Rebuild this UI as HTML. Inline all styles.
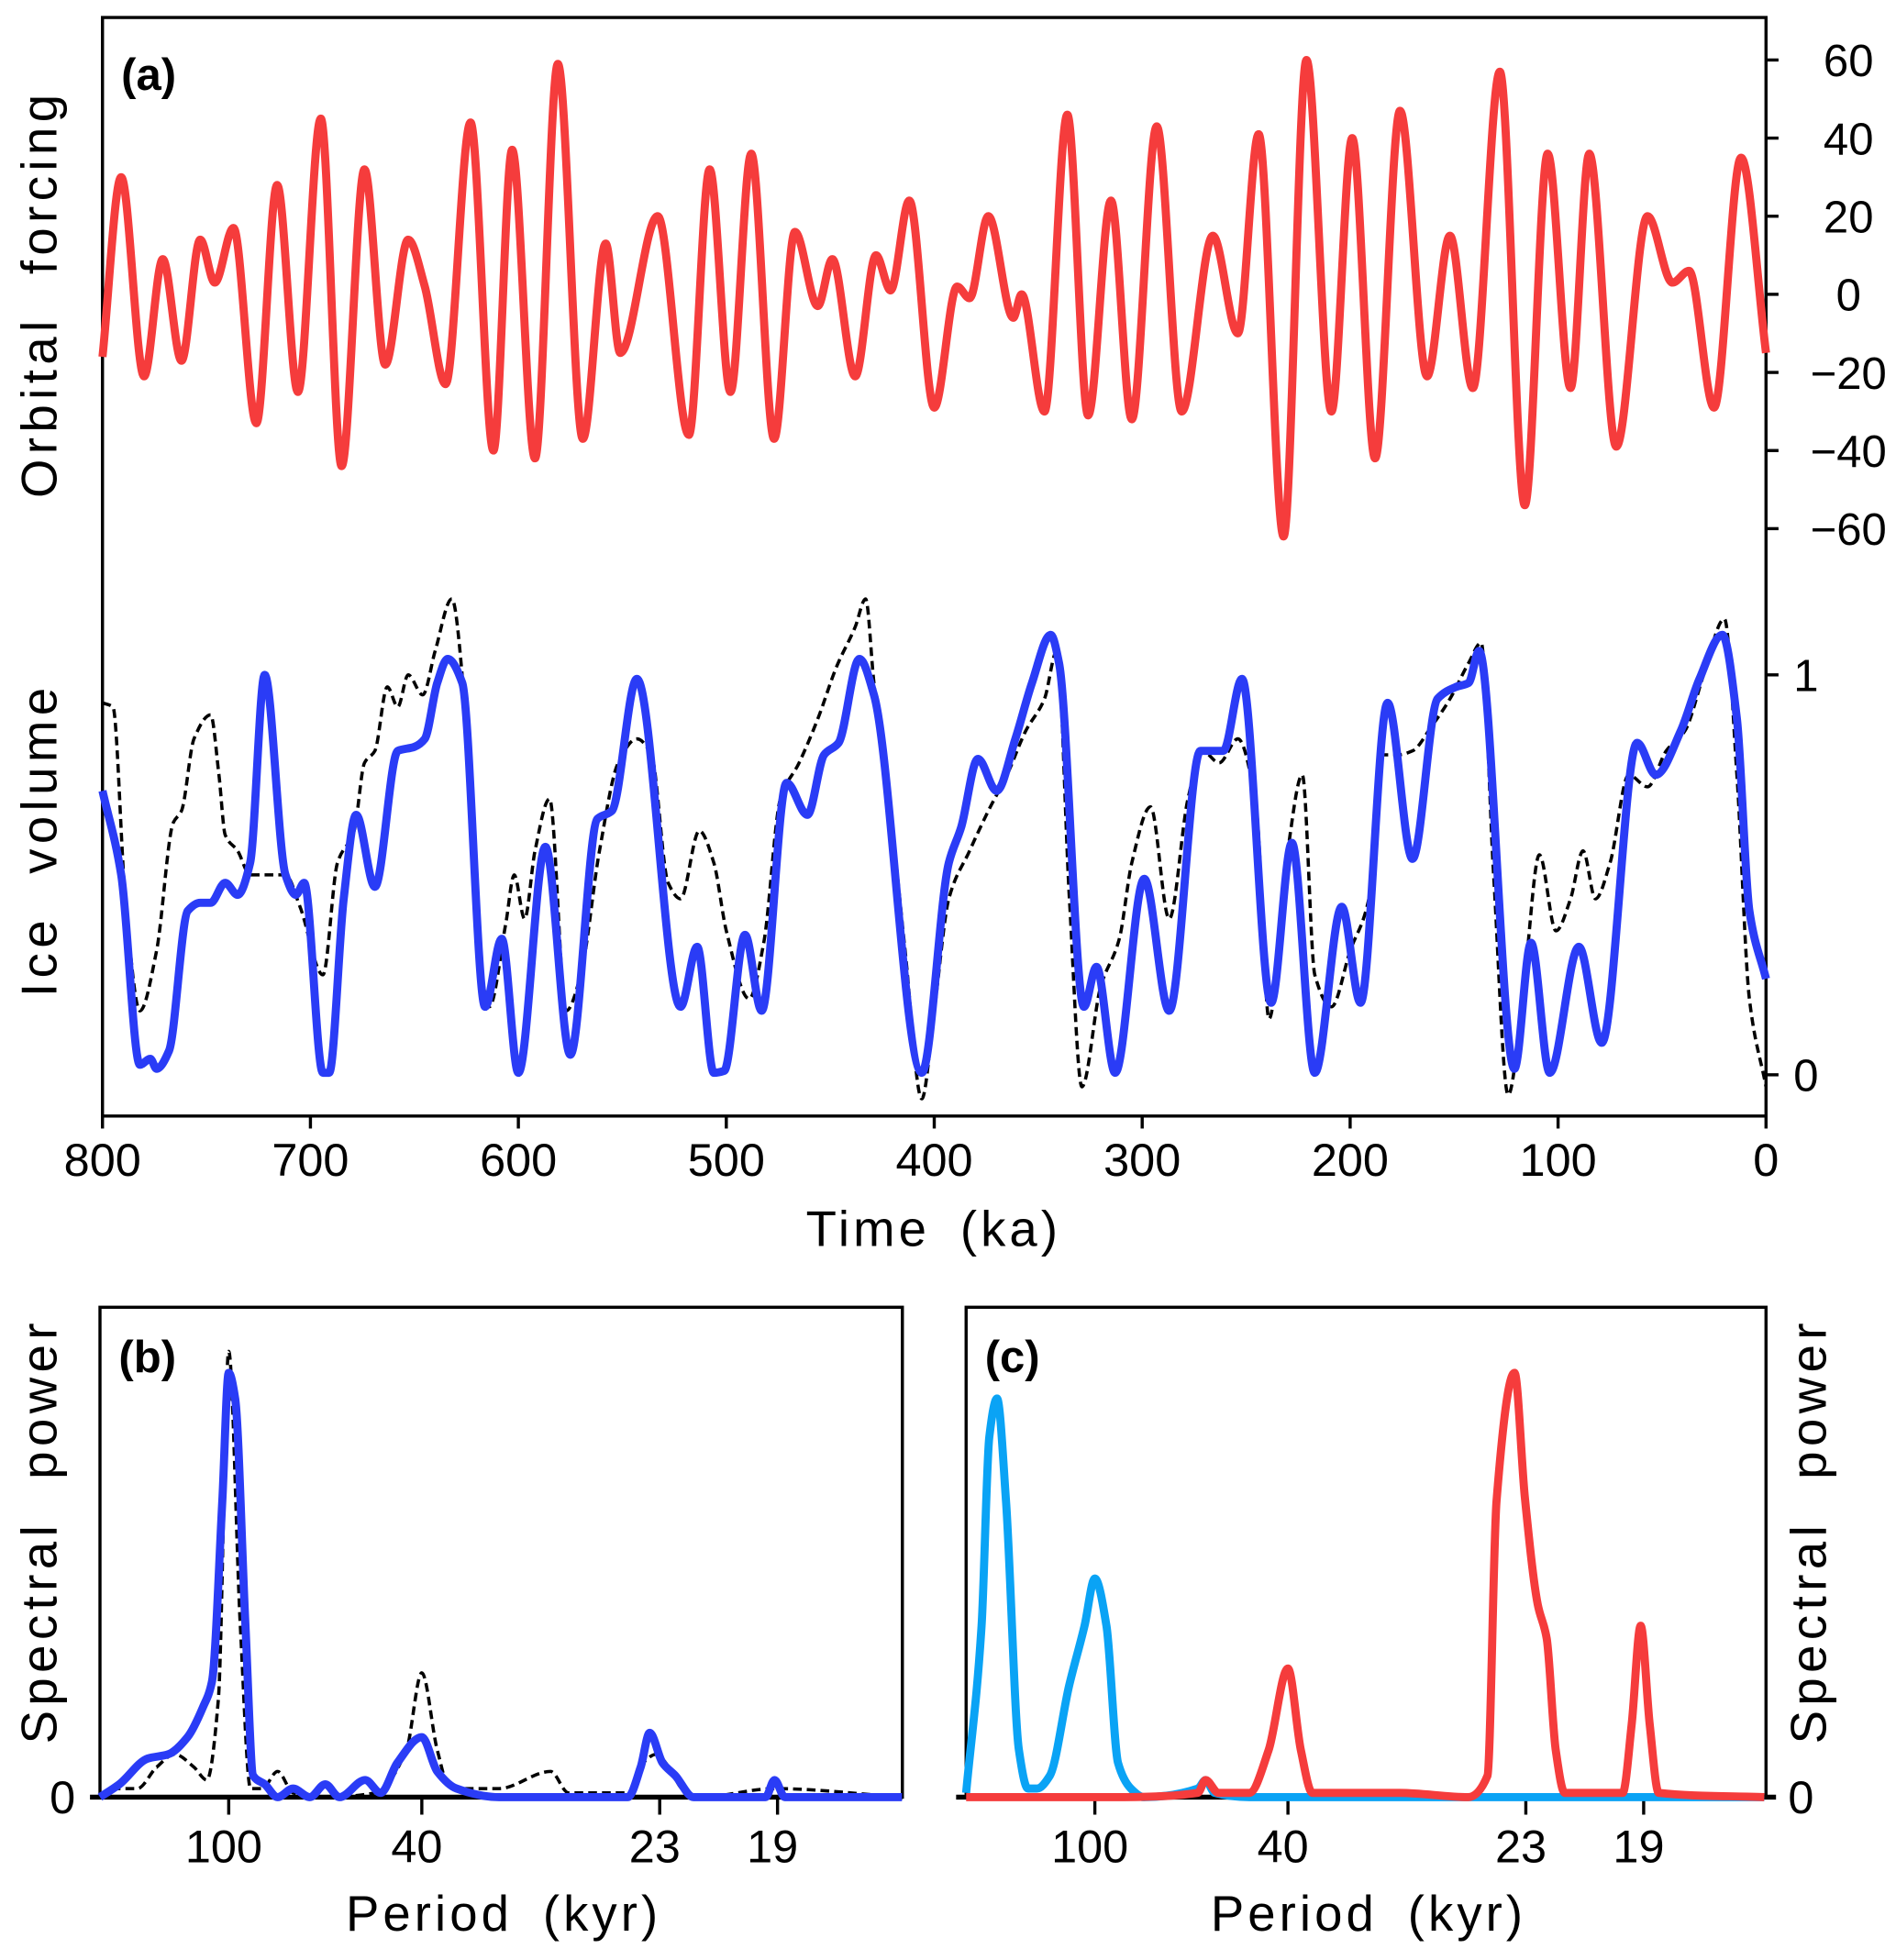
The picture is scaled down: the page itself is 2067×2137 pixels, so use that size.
<!DOCTYPE html>
<html><head><meta charset="utf-8">
<style>
html,body{margin:0;padding:0;background:#fff;}
svg{display:block;}
text{font-family:"Liberation Sans",sans-serif;fill:#000;}
</style></head>
<body>
<svg id="fig" width="2067" height="2137" viewBox="0 0 1517 1568.3" preserveAspectRatio="none" xmlns="http://www.w3.org/2000/svg"></svg>
<script>
// ---- Panel (a) data ----
const forcingTime = [800,791,780,771,762,753,746,737,726,716,706,695,685,674,664,653,645,635,623,612,603,592,581,569,558,551,533,518,508,498,488,477,467,456,449,438,428,421,412,400,389,383,374,362,358,347,336,326,315,305,293,281,266,254,244,232,221,209,199,188,176,163,152,141,128,116,105,94,85,72,57,45,37,25,12,0];
const forcingVal = [-16,30,-21,9,-17,14,3,17,-33,28,-25,45,-44,32,-18,14,2,-23,44,-40,37,-42,59,-37,13,-15,20,-36,32,-25,36,-37,16,-3,9,-21,10,1,24,-29,2,-1,20,-6,0,-30,46,-31,24,-32,43,-30,15,-10,41,-62,60,-30,40,-42,47,-21,15,-24,57,-54,36,-24,36,-39,20,3,6,-29,35,-15];
const iceTime = [800,791,782,777,774,768,759,753,748,741,735,729,722,712,707,703,694,691,684,678,669,658,650,645,639,634,627,616,608,600,587,575,562,555,543,522,514,506,501,491,483,471,461,453,446,436,429,406,393,387,379,370,361,353,344,340,328,322,313,299,287,272,261,252,238,228,217,204,195,182,170,158,149,143,138,121,113,104,90,79,62,53,41,32,21,14,8,0];
const iceVal = [0.71,0.5,0.025,0.04,0.015,0.06,0.41,0.43,0.43,0.48,0.45,0.53,1.0,0.5,0.45,0.48,0.005,0.005,0.44,0.65,0.47,0.81,0.82,0.84,0.98,1.04,0.98,0.17,0.34,0.005,0.57,0.05,0.64,0.66,0.99,0.17,0.32,0.005,0.01,0.35,0.16,0.73,0.65,0.8,0.83,1.04,0.95,0.005,0.53,0.62,0.79,0.71,0.84,0.98,1.1,1.03,0.17,0.27,0.005,0.49,0.16,0.81,0.81,0.99,0.18,0.58,0.005,0.42,0.18,0.93,0.54,0.94,0.97,0.98,1.06,0.015,0.33,0.005,0.32,0.08,0.83,0.75,0.86,0.99,1.1,0.89,0.41,0.24];
const recTime = [800,795,789,782,774,766,762,756,748,744,741,735,729,720,712,705,694,687,679,674,669,663,658,653,646,640,632,626,619,614,606,602,597,592,585,577,570,561,552,543,536,528,522,513,506,500,489,482,474,465,456,447,438,433,429,421,414,406,400,393,383,374,365,356,347,341,335,329,320,311,305,296,287,278,271,263,254,245,239,230,223,217,209,200,191,185,177,170,161,152,143,137,131,124,116,109,101,94,88,82,75,66,57,48,39,30,20,14,8,0];
const recVal = [0.93,0.92,0.44,0.16,0.31,0.63,0.66,0.84,0.9,0.75,0.6,0.56,0.5,0.5,0.5,0.42,0.25,0.53,0.61,0.78,0.81,0.97,0.92,1.0,0.95,1.06,1.19,0.94,0.31,0.17,0.38,0.5,0.39,0.56,0.69,0.16,0.25,0.56,0.78,0.84,0.8,0.48,0.44,0.61,0.53,0.36,0.19,0.33,0.69,0.78,0.89,1.02,1.12,1.19,0.98,0.66,0.31,-0.06,0.16,0.44,0.56,0.66,0.75,0.86,0.94,1.06,0.44,-0.03,0.22,0.34,0.53,0.67,0.39,0.69,0.81,0.78,0.84,0.66,0.14,0.56,0.75,0.25,0.17,0.31,0.44,0.8,0.8,0.81,0.87,0.94,1.03,1.08,0.5,-0.05,0.25,0.55,0.36,0.44,0.56,0.44,0.53,0.75,0.72,0.81,0.86,1.0,1.14,0.75,0.19,-0.03];
const timeTicks = [800,700,600,500,400,300,200,100,0];
const forcingTicks = [60,40,20,0,-20,-40,-60];
const iceTicks = [0,1];
// ---- Panel (b),(c) spectra data (frequency 1/kyr, power arbitrary) ----
const bFreq = [0,0.0015,0.0037,0.0053,0.0068,0.008,0.0087,0.0095,0.01,0.0105,0.0113,0.0119,0.0128,0.0138,0.015,0.0163,0.0175,0.0186,0.0206,0.0218,0.0231,0.025,0.0262,0.0277,0.031,0.041,0.042,0.0427,0.0437,0.0447,0.0461,0.0517,0.0524,0.0532,0.0623];
const bPow = [0,3,9,10,14,21,27,69,99,93,40,5,3,0,2,0,3,0,4,1,8,14,6,2,0,0,7,15,8,5,0,0,4,0,0];
const bDashFreq = [0,0.0015,0.0029,0.0044,0.0058,0.0073,0.0083,0.0092,0.01,0.0109,0.0117,0.0126,0.0138,0.015,0.0175,0.0214,0.0238,0.025,0.0262,0.0272,0.031,0.035,0.0364,0.041,0.0422,0.0432,0.0442,0.0452,0.0466,0.0524,0.0623];
const bDashPow = [0,2,2,7,10,7,4,23,104,40,2,2,6,1,0,1,11,29,11,2,2,6,1,1,8,10,7,2,0,2,0];
const cEccFreq = [0,0.0012,0.0018,0.0024,0.0031,0.0041,0.0048,0.0055,0.0065,0.008,0.0092,0.01,0.0109,0.0118,0.0128,0.0138,0.018,0.0186,0.0193,0.022,0.062];
const cEccPow = [1,40,84,93,69,11,2,2,5,26,40,51,40,8,2,0,2,4,1,0,0];
const cPrecFreq = [0,0.0123,0.018,0.0186,0.0196,0.022,0.0235,0.025,0.026,0.0269,0.0337,0.039,0.0405,0.0412,0.0426,0.0434,0.0444,0.0451,0.0458,0.0465,0.051,0.0517,0.0524,0.0531,0.0538,0.062];
const cPrecPow = [0,0,1,4,1,1,11,30,11,1,1,0,5,69,99,70,45,37,11,1,1,17,40,17,1,0];
const periodTicks = [100,40,23,19];

const NS="http://www.w3.org/2000/svg";
const svg=document.getElementById('fig');
function el(tag,attrs,parent){const e=document.createElementNS(NS,tag);for(const k in attrs)e.setAttribute(k,attrs[k]);(parent||svg).appendChild(e);return e;}
// monotone cubic (Fritsch-Carlson) in pixel space, x must be strictly monotone
function smoothPath(pts){
  const n=pts.length;
  const dx=[],s=[];
  for(let i=0;i<n-1;i++){dx.push(pts[i+1][0]-pts[i][0]);s.push((pts[i+1][1]-pts[i][1])/dx[i]);}
  const m=new Array(n);
  m[0]=s[0];m[n-1]=s[n-2];
  for(let i=1;i<n-1;i++){
    if(s[i-1]*s[i]<=0)m[i]=0;
    else{const w1=2*dx[i]+dx[i-1],w2=dx[i]+2*dx[i-1];m[i]=(w1+w2)/(w1/s[i-1]+w2/s[i]);}
  }
  let d=`M${pts[0][0].toFixed(2)},${pts[0][1].toFixed(2)}`;
  for(let i=0;i<n-1;i++){
    const h=dx[i]/3;
    d+=`C${(pts[i][0]+h).toFixed(2)},${(pts[i][1]+m[i]*h).toFixed(2)} ${(pts[i+1][0]-h).toFixed(2)},${(pts[i+1][1]-m[i+1]*h).toFixed(2)} ${pts[i+1][0].toFixed(2)},${pts[i+1][1].toFixed(2)}`;
  }
  return d;
}
function text(str,x,y,size,anchor,parent,extra){const t=el('text',Object.assign({x:x,y:y,'font-size':size,'text-anchor':anchor||'middle'},extra||{}),parent);t.textContent=str;return t;}

// ---- Panel (a) ----
const A={l:82,r:1413,t:14,b:893};
const xT=t=>A.l+(800-t)/800*(A.r-A.l);
const yF=v=>235.5-v*3.125;
const yI=v=>860-v*320;
const gA=el('g',{});


const fr=el('rect',{x:A.l,y:A.t,width:A.r-A.l,height:A.b-A.t,fill:'none',stroke:'#000','stroke-width':2.5},gA);


timeTicks.forEach(t=>{
  const tk=el('line',{x1:xT(t),x2:xT(t),y1:A.b,y2:A.b+10,stroke:'#000','stroke-width':2.5},gA);
  
  
  const lb=text(String(t),xT(t),A.b+48,37,'middle',gA);
  
  
});
forcingTicks.forEach(v=>{
  const tk=el('line',{x1:A.r,x2:A.r+10,y1:yF(v),y2:yF(v),stroke:'#000','stroke-width':2.5},gA);
  
  
  const lb=text((v<0?'\u2212':'')+Math.abs(v),A.r+66,yF(v)+13,36,'middle',gA);
  
  
});
iceTicks.forEach(v=>{
  const tk=el('line',{x1:A.r,x2:A.r+10,y1:yI(v),y2:yI(v),stroke:'#000','stroke-width':2.5},gA);
  
  
  const lb=text(String(v),A.r+22,yI(v)+13,36,'start',gA);
  
  
});
let t1=text('Time (ka)',747,997,40,'middle',gA,{'letter-spacing':'3','word-spacing':'10'});


let t2=text('Orbital forcing',45,235,40,'middle',gA,{transform:'rotate(-90 45 235)','letter-spacing':'4','word-spacing':'18'});


let t3=text('Ice volume',45,672,40,'middle',gA,{transform:'rotate(-90 45 672)','letter-spacing':'4','word-spacing':'18'});


let t4=text('(a)',97,72,36,'start',gA,{'font-weight':'bold'});


let p=el('path',{d:smoothPath(recTime.map((t,i)=>[xT(t),yI(recVal[i])])),fill:'none',stroke:'#000','stroke-width':2.6,'stroke-dasharray':'7 4'},gA);


p=el('path',{d:smoothPath(iceTime.map((t,i)=>[xT(t),yI(iceVal[i])])),fill:'none',stroke:'#2a3cf6','stroke-width':6.5,'stroke-linejoin':'round'},gA);


p=el('path',{d:smoothPath(forcingTime.map((t,i)=>[xT(t),yF(forcingVal[i])])),fill:'none',stroke:'#f53c3c','stroke-width':6.5,'stroke-linejoin':'round'},gA);



// ---- Spectral panels ----
function spectral(left,right,name,label,rightAxis){
  const top=1046,base=1438;
  const xF=f=>left+f*10300;
  const yP=v=>base-v*3.43;
  const g=el('g',{});
  
  
  const r=el('rect',{x:left,y:top,width:right-left,height:base-top,fill:'none',stroke:'#000','stroke-width':2.5},g);
  
  
  const ax=el('line',{x1:left-8,x2:right+(rightAxis?8:0),y1:base,y2:base,stroke:'#000','stroke-width':4},g);
  
  
  periodTicks.forEach(pd=>{
    const x=xF(1/pd);
    const tk=el('line',{x1:x,x2:x,y1:base,y2:base+14,stroke:'#000','stroke-width':2.5},g);
    
    
    const lb=text(String(pd),x-4,base+52,37,'middle',g);
    
    
  });
  const zl=text('0',rightAxis?right+28:left-30,base+13,37,'middle',g);
  
  
  const xt=text('Period (kyr)',(left+right)/2+2,1545,40,'middle',g,{'letter-spacing':'3','word-spacing':'10'});
  
  
  const yx=rightAxis?right+48:45;
  const yt=text('Spectral power',yx,1225,40,'middle',g,{transform:`rotate(-90 ${yx} 1225)`,'letter-spacing':'4','word-spacing':'18'});
  
  
  const pl=text(label,left+15,1098,36,'start',g,{'font-weight':'bold'});
  
  
  return {g,xF,yP};
}
const B=spectral(80,722,'panel-b','(b)',false);
p=el('path',{d:smoothPath(bDashFreq.map((f,i)=>[B.xF(f),B.yP(bDashPow[i])])),fill:'none',stroke:'#000','stroke-width':2.6,'stroke-dasharray':'7 4'},B.g);


p=el('path',{d:smoothPath(bFreq.map((f,i)=>[B.xF(f),B.yP(bPow[i])])),fill:'none',stroke:'#2a3cf6','stroke-width':6.5,'stroke-linejoin':'round'},B.g);


const C=spectral(773,1413,'panel-c','(c)',true);
p=el('path',{d:smoothPath(cEccFreq.map((f,i)=>[C.xF(f),C.yP(cEccPow[i])])),fill:'none',stroke:'#0aa3f5','stroke-width':6.5,'stroke-linejoin':'round'},C.g);


p=el('path',{d:smoothPath(cPrecFreq.map((f,i)=>[C.xF(f),C.yP(cPrecPow[i])])),fill:'none',stroke:'#f53c3c','stroke-width':6.5,'stroke-linejoin':'round'},C.g);


</script>
</body></html>
